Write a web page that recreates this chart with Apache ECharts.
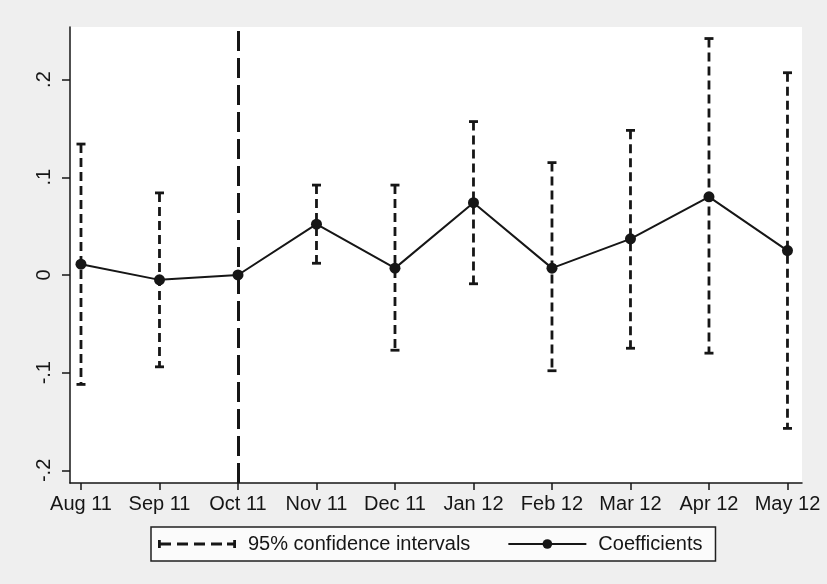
<!DOCTYPE html>
<html>
<head>
<meta charset="utf-8">
<script src="https://cdn.jsdelivr.net/npm/echarts@6/dist/echarts.min.js"></script>
<style>
  html, body { margin: 0; padding: 0; background: #efefef; }
  #chart { width: 827px; height: 584px; }
</style>
</head>
<body>
<div id="chart"></div>
<script>
// Monthly coefficients with 95% confidence intervals; Oct 11 is the reference month.
const months = ['Aug 11', 'Sep 11', 'Oct 11', 'Nov 11', 'Dec 11', 'Jan 12', 'Feb 12', 'Mar 12', 'Apr 12', 'May 12'];
const coefficients = [0.011, -0.005, 0.000, 0.052, 0.007, 0.074, 0.007, 0.037, 0.080, 0.025];
const ciLower = [-0.112, -0.094, null, 0.012, -0.077, -0.009, -0.098, -0.075, -0.080, -0.157];
const ciUpper = [0.134, 0.084, null, 0.092, 0.092, 0.157, 0.115, 0.148, 0.242, 0.207];
const yTicks = [-0.2, -0.1, 0, 0.1, 0.2];
const referenceMonth = 'Oct 11';

const monthIdx = months.map((_, i) => i);
const coefData = coefficients.map((v, i) => [i, v]);
const ciData = [];
months.forEach((_, i) => {
  if (ciLower[i] !== null && ciUpper[i] !== null) ciData.push([i, ciLower[i], ciUpper[i]]);
});

const ink = '#161616';
const font = "'Liberation Sans', Arial, Helvetica, sans-serif";

function fmtY(v) {
  if (Math.abs(v) < 1e-9) return '0';
  const s = Math.abs(v).toFixed(1).replace(/^0/, '');
  return (v < 0 ? '-' : '') + s;
}

// Legend icon for the interval series: capped dashed segment
const ciIcon = 'path://' +
  'M0,0 L0.1,0 L0,0.1 Z M0,12 L0.1,12 L0,11.9 Z ' +
  'M0,2 L2.8,2 L2.8,10 L0,10 Z ' +
  'M0,4.6 L13,4.6 L13,7.4 L0,7.4 Z ' +
  'M19,4.6 L30,4.6 L30,7.4 L19,7.4 Z ' +
  'M36,4.6 L47,4.6 L47,7.4 L36,7.4 Z ' +
  'M53,4.6 L64,4.6 L64,7.4 L53,7.4 Z ' +
  'M69,4.6 L78,4.6 L78,7.4 L69,7.4 Z ' +
  'M75.2,2 L78,2 L78,10 L75.2,10 Z';

const chart = echarts.init(document.getElementById('chart'), null, { renderer: 'canvas' });

chart.setOption({
  backgroundColor: '#efefef',
  animation: false,
  textStyle: { fontFamily: font, color: ink },
  grid: {
    left: 70, right: 25, top: 27, bottom: 101,
    show: true, backgroundColor: '#ffffff', borderWidth: 0
  },
  xAxis: {
    type: 'value',
    min: -0.14,
    max: 9.185,
    splitLine: { show: false },
    axisLine: { show: true, onZero: false, lineStyle: { color: ink, width: 1.5 } },
    axisTick: { show: true, length: 7, lineStyle: { color: ink, width: 1.5 }, customValues: monthIdx },
    axisLabel: {
      customValues: monthIdx,
      formatter: v => months[Math.round(v)],
      fontSize: 20, fontFamily: font, color: ink, margin: 11
    }
  },
  yAxis: {
    type: 'value',
    min: -0.2129,
    max: 0.2538,
    splitLine: { show: false },
    axisLine: { show: true, onZero: false, lineStyle: { color: ink, width: 1.5 } },
    axisTick: { show: true, length: 8, lineStyle: { color: ink, width: 1.5 }, customValues: yTicks },
    axisLabel: {
      customValues: yTicks,
      formatter: fmtY,
      rotate: 90,
      fontSize: 20, fontFamily: font, color: ink, margin: 16
    }
  },
  legend: {
    left: 151,
    top: 527,
    orient: 'horizontal',
    itemWidth: 78,
    itemHeight: 12,
    itemGap: 37,
    padding: [7, 13, 7, 7],
    borderColor: '#202020',
    borderWidth: 1.5,
    borderRadius: 0,
    backgroundColor: '#fbfbfb',
    selectedMode: false,
    textStyle: { fontSize: 20, fontFamily: font, color: ink, padding: [0, 0, 0, 7] },
    data: [
      { name: '95% confidence intervals', icon: ciIcon, itemStyle: { color: ink } },
      { name: 'Coefficients' }
    ]
  },
  series: [
    {
      name: '95% confidence intervals',
      type: 'custom',
      itemStyle: { color: ink },
      data: ciData,
      z: 2,
      renderItem: function (params, api) {
        const x = api.value(0);
        const lo = api.coord([x, api.value(1)]);
        const hi = api.coord([x, api.value(2)]);
        const cap = 4.5;
        const s = { stroke: ink, lineWidth: 2.8 };
        return {
          type: 'group',
          children: [
            { type: 'line', shape: { x1: hi[0], y1: hi[1], x2: lo[0], y2: lo[1] },
              style: { stroke: ink, lineWidth: 2.8, lineDash: [9, 5] } },
            { type: 'line', shape: { x1: hi[0] - cap, y1: hi[1], x2: hi[0] + cap, y2: hi[1] }, style: s },
            { type: 'line', shape: { x1: lo[0] - cap, y1: lo[1], x2: lo[0] + cap, y2: lo[1] }, style: s }
          ]
        };
      }
    },
    {
      name: 'Coefficients',
      type: 'line',
      data: coefData,
      z: 3,
      symbol: 'circle',
      symbolSize: 11,
      itemStyle: { color: ink },
      lineStyle: { color: ink, width: 2 },
      markLine: {
        silent: true,
        symbol: 'none',
        label: { show: false },
        lineStyle: { color: ink, width: 3, type: [20, 7] },
        data: [{ xAxis: months.indexOf(referenceMonth) }]
      }
    }
  ]
});
</script>
</body>
</html>
